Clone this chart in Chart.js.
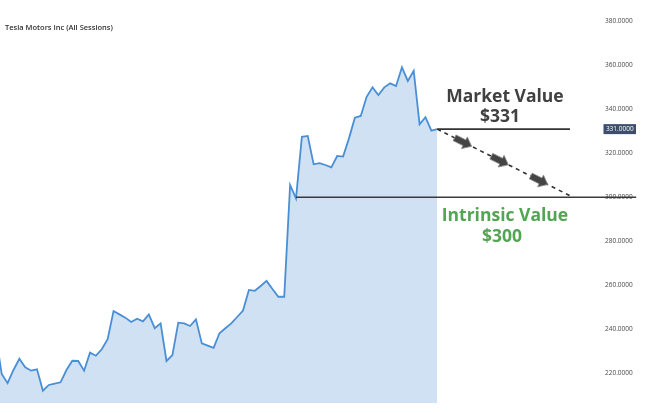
<!DOCTYPE html>
<html>
<head>
<meta charset="utf-8">
<script src="https://cdn.jsdelivr.net/npm/chart.js@4/dist/chart.umd.min.js"></script>
<style>
  html, body { margin: 0; padding: 0; background: #ffffff; }
  #wrap { position: relative; width: 650px; height: 413px; }
</style>
</head>
<body>
<div id="wrap"><canvas id="chart" width="650" height="413"></canvas></div>
<script>
// Daily closing prices, oldest first (session index = array position)
const closePrices = [
  237.4, 219.7, 215.5, 221.5, 226.6, 222.7, 221.2, 221.8, 212.1, 214.7,
  215.3, 215.9, 221.5, 225.7, 225.6, 221.2, 229.4, 228.0, 230.9, 235.5,
  248.3, 246.8, 245.3, 243.3, 244.8, 243.6, 246.8, 240.5, 242.7, 225.6,
  228.3, 243.0, 242.7, 241.5, 244.5, 233.6, 232.6, 231.6, 238.2, 240.5,
  242.7, 245.6, 248.5, 257.9, 257.5, 259.7, 262.0, 258.3, 254.8, 254.8,
  305.6, 299.5, 327.5, 327.9, 315.0, 315.5, 314.7, 313.6, 318.8, 318.5,
  326.8, 336.2, 337.0, 345.7, 350.0, 346.5, 350.0, 351.8, 350.6, 359.1,
  352.9, 357.5, 333.2, 336.4, 330.3, 331.0
];

// Price axis tick values
const priceTicks = [220, 240, 260, 280, 300, 320, 340, 360, 380];

// Valuation levels
const marketValue = 331;
const intrinsicValue = 300;
const intrinsicFromSession = 51;

const chartTitle = 'Tesla Motors Inc (All Sessions)';
const marketLabel = ['Market Value', '$331'];
const intrinsicLabel = ['Intrinsic Value', '$300'];

const points = closePrices.map((v, i) => ({ x: i, y: v }));
const lastSession = closePrices.length - 1;

// Visible window of the session axis and price axis
const sessionMin = 0.711, sessionMax = 102.65;
const priceMin = 206.5, priceMax = 389.7;

const FONT = '"Open Sans", "Liberation Sans", Arial, sans-serif';

function drawBlockArrow(ctx, cx, cy, angle) {
  const L = 19, bodyHalf = 3.2, headLen = 8, headHalf = 6.5;
  ctx.save();
  ctx.translate(cx, cy);
  ctx.rotate(angle);
  ctx.beginPath();
  ctx.moveTo(-L / 2, -bodyHalf);
  ctx.lineTo(L / 2 - headLen, -bodyHalf);
  ctx.lineTo(L / 2 - headLen, -headHalf);
  ctx.lineTo(L / 2, 0);
  ctx.lineTo(L / 2 - headLen, headHalf);
  ctx.lineTo(L / 2 - headLen, bodyHalf);
  ctx.lineTo(-L / 2, bodyHalf);
  ctx.closePath();
  ctx.fillStyle = '#444444';
  ctx.fill();
  ctx.lineWidth = 0.8;
  ctx.strokeStyle = '#8a8a8a';
  ctx.stroke();
  ctx.restore();
}

const valuationOverlay = {
  id: 'valuationOverlay',
  afterDraw(chart) {
    const { ctx, scales: { x, y } } = chart;
    ctx.save();

    // Title
    ctx.fillStyle = '#333333';
    ctx.font = '600 7.5px ' + FONT;
    ctx.textAlign = 'left';
    ctx.textBaseline = 'middle';
    ctx.fillText(chartTitle, 5, 28);

    const yMkt = y.getPixelForValue(marketValue);
    const yInt = y.getPixelForValue(intrinsicValue);
    const xLast = x.getPixelForValue(lastSession);

    // Market value level
    ctx.strokeStyle = '#333333';
    ctx.lineWidth = 1.6;
    ctx.beginPath();
    ctx.moveTo(xLast, yMkt);
    ctx.lineTo(x.getPixelForValue(97.55), yMkt);
    ctx.stroke();

    // Intrinsic value level
    ctx.strokeStyle = '#3a3a3a';
    ctx.lineWidth = 1.6;
    ctx.beginPath();
    ctx.moveTo(x.getPixelForValue(intrinsicFromSession), yInt);
    ctx.lineTo(x.getPixelForValue(108.8), yInt);
    ctx.stroke();

    // Dashed path from market value down to intrinsic value
    const x0 = xLast, y0 = yMkt;
    const x1 = x.getPixelForValue(98.1), y1 = yInt;
    ctx.setLineDash([4, 4]);
    ctx.strokeStyle = '#333333';
    ctx.lineWidth = 1.6;
    ctx.beginPath();
    ctx.moveTo(x0, y0);
    ctx.lineTo(x1, y1);
    ctx.stroke();
    ctx.setLineDash([]);

    const ang = Math.atan2(y1 - y0, x1 - x0);
    [0.19, 0.46, 0.75].forEach(t => {
      drawBlockArrow(ctx, x0 + (x1 - x0) * t, y0 + (y1 - y0) * t, ang);
    });

    // Labels
    const cx = x.getPixelForValue(86.5);
    ctx.textAlign = 'center';
    ctx.textBaseline = 'middle';
    ctx.font = 'bold 17.5px ' + FONT;
    ctx.fillStyle = '#404040';
    ctx.fillText(marketLabel[0], cx, yMkt - 32.5);
    ctx.fillText(marketLabel[1], cx - 5, yMkt - 12.5);
    ctx.fillStyle = '#52a552';
    ctx.fillText(intrinsicLabel[0], cx, yInt + 19);
    ctx.fillText(intrinsicLabel[1], cx - 3, yInt + 40);

    // Current price tag on the axis
    const tagX = chart.chartArea.right + 3.5;
    ctx.fillStyle = '#3d4e6c';
    ctx.fillRect(tagX, yMkt - 5, 32.5, 10);
    ctx.fillStyle = '#ffffff';
    ctx.font = '6.5px ' + FONT;
    ctx.fillText(marketValue.toFixed(4), tagX + 16.25, yMkt + 0.3);

    ctx.restore();
  }
};

new Chart(document.getElementById('chart'), {
  type: 'line',
  data: {
    datasets: [{
      data: points,
      borderColor: '#4a8fd5',
      borderWidth: 1.8,
      backgroundColor: '#cfe1f2',
      fill: 'start',
      pointRadius: 0,
      tension: 0
    }]
  },
  options: {
    responsive: false,
    animation: false,
    layout: { padding: { left: 0, right: 0, top: 0, bottom: 10 } },
    plugins: { legend: { display: false }, tooltip: { enabled: false } },
    scales: {
      x: {
        type: 'linear',
        display: false,
        min: sessionMin,
        max: sessionMax
      },
      y: {
        position: 'right',
        min: priceMin,
        max: priceMax,
        grid: { display: false, drawTicks: false },
        border: { display: false },
        afterBuildTicks: (scale) => {
          scale.ticks = priceTicks.map(v => ({ value: v }));
        },
        afterFit: (scale) => {
          scale.width = 50;
          scale.paddingTop = 0;
          scale.paddingBottom = 0;
        },
        ticks: {
          padding: 5,
          color: '#4a4a4a',
          font: { family: FONT, size: 6.5 },
          callback: (v) => Number(v).toFixed(4)
        }
      }
    }
  },
  plugins: [valuationOverlay]
});
</script>
</body>
</html>
